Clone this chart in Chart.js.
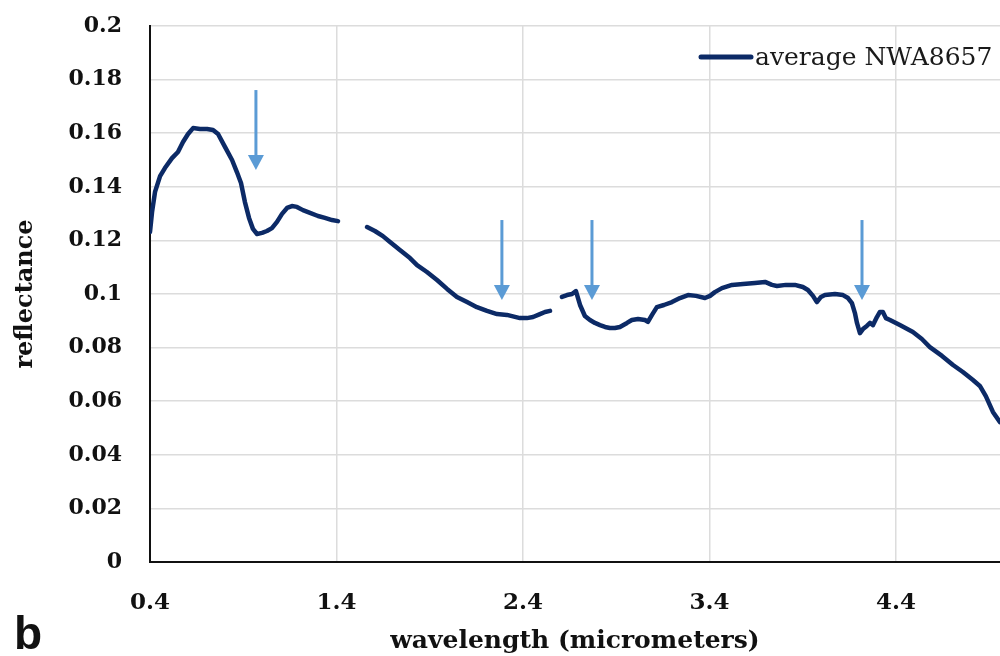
<!DOCTYPE html>
<html>
<head>
<meta charset="utf-8">
<script src="https://cdn.jsdelivr.net/npm/chart.js@4.4.1/dist/chart.umd.min.js"></script>
<style>
  html, body { margin: 0; padding: 0; background: #ffffff; overflow: hidden; }
  #wrap { position: relative; width: 1000px; height: 656px; }
  #panel { position: absolute; left: 14px; top: 610px; font: bold 46px "Liberation Sans", Arial, sans-serif; color: #111; line-height: 1; }
</style>
</head>
<body>
<div id="wrap">
  <canvas id="c" width="1000" height="656"></canvas>
  <div id="panel">b</div>
</div>
<script>
// ---- data ----
const seriesLabel = "average NWA8657";
const xTitle = "wavelength (micrometers)";
const yTitle = "reflectance";
const xTickValues = [0.4, 1.4, 2.4, 3.4, 4.4];

// wavelength (micrometers); null marks a gap in the measured spectrum
const wavelengths = [
  0.400, 0.411, 0.427, 0.454, 0.480, 0.518, 0.550, 0.577, 0.604, 0.631,
  0.668, 0.706, 0.738, 0.765, 0.802, 0.840, 0.866, 0.888, 0.909, 0.931,
  0.952, 0.974, 1.001, 1.027, 1.054, 1.081, 1.108, 1.135, 1.161, 1.188,
  1.220, 1.258, 1.301, 1.338, 1.376, 1.408,
  1.480,
  1.564, 1.606, 1.649, 1.687, 1.740, 1.794, 1.832, 1.885, 1.939, 1.993,
  2.046, 2.100, 2.153, 2.207, 2.261, 2.314, 2.384, 2.421, 2.454, 2.491,
  2.518, 2.545,
  2.580,
  2.609, 2.636, 2.663, 2.684, 2.706, 2.732, 2.759, 2.786, 2.813, 2.840,
  2.866, 2.893, 2.920, 2.958, 2.984, 3.017, 3.054, 3.070, 3.092, 3.118,
  3.156, 3.199, 3.242, 3.285, 3.328, 3.376, 3.403, 3.429, 3.467, 3.521,
  3.580, 3.644, 3.698, 3.735, 3.762, 3.810, 3.858, 3.901, 3.928, 3.955,
  3.976, 3.998, 4.019, 4.073, 4.116, 4.143, 4.164, 4.180, 4.191, 4.207,
  4.223, 4.244, 4.261, 4.277, 4.298, 4.314, 4.330, 4.346, 4.368, 4.421,
  4.491, 4.539, 4.582, 4.647, 4.706, 4.759, 4.813, 4.850, 4.882, 4.920,
  4.958
];
const reflectance = [
  0.1231, 0.1306, 0.1381, 0.1440, 0.1470, 0.1507, 0.1530, 0.1567, 0.1597, 0.1619,
  0.1616, 0.1616, 0.1612, 0.1597, 0.1549, 0.1500, 0.1455, 0.1414, 0.1343, 0.1284,
  0.1243, 0.1224, 0.1228, 0.1235, 0.1246, 0.1269, 0.1299, 0.1321, 0.1328, 0.1325,
  0.1313, 0.1303, 0.1291, 0.1284, 0.1276, 0.1272,
  null,
  0.1250, 0.1235, 0.1216, 0.1194, 0.1164, 0.1134, 0.1108, 0.1082, 0.1052, 0.1019,
  0.0989, 0.0970, 0.0951, 0.0937, 0.0925, 0.0922, 0.0910, 0.0910, 0.0914, 0.0925,
  0.0933, 0.0937,
  null,
  0.0989, 0.0996, 0.1000, 0.1011, 0.0959, 0.0918, 0.0903, 0.0892, 0.0884, 0.0877,
  0.0873, 0.0873, 0.0877, 0.0892, 0.0903, 0.0907, 0.0903, 0.0896, 0.0922, 0.0951,
  0.0959, 0.0970, 0.0985, 0.0996, 0.0993, 0.0985, 0.0993, 0.1007, 0.1022, 0.1034,
  0.1037, 0.1041, 0.1045, 0.1034, 0.1030, 0.1034, 0.1034, 0.1026, 0.1015, 0.0993,
  0.0970, 0.0989, 0.0996, 0.1000, 0.0996, 0.0985, 0.0966, 0.0929, 0.0892, 0.0854,
  0.0869, 0.0881, 0.0892, 0.0884, 0.0914, 0.0933, 0.0933, 0.0910, 0.0903, 0.0884,
  0.0858, 0.0832, 0.0802, 0.0769, 0.0735, 0.0709, 0.0679, 0.0657, 0.0619, 0.0560,
  0.0522
];

// absorption-band arrows: wavelength, tail reflectance, tip reflectance
const arrowWavelengths = [0.968, 2.287, 2.770, 4.218];
const arrowTail = [0.1761, 0.1276, 0.1276, 0.1276];
const arrowTip = [0.1463, 0.0978, 0.0978, 0.0978];

// ---- styles ----
const lineColor = "#0c2a66";
const arrowColor = "#5b9bd5";
const gridColor = "#dcdcdc";
const serif = "'DejaVu Serif', 'Liberation Serif', serif";

const points = wavelengths.map((w, i) => ({ x: w, y: reflectance[i] }));

const arrowPlugin = {
  id: 'arrows',
  afterDatasetsDraw(chart) {
    const { ctx, scales: { x, y } } = chart;
    ctx.save();
    ctx.strokeStyle = arrowColor;
    ctx.fillStyle = arrowColor;
    arrowWavelengths.forEach((w, i) => {
      const px = x.getPixelForValue(w);
      const top = y.getPixelForValue(arrowTail[i]);
      const tip = y.getPixelForValue(arrowTip[i]);
      const headLen = 15, headHalf = 8;
      ctx.lineWidth = 3;
      ctx.beginPath();
      ctx.moveTo(px, top);
      ctx.lineTo(px, tip - headLen + 1);
      ctx.stroke();
      ctx.beginPath();
      ctx.moveTo(px - headHalf, tip - headLen);
      ctx.lineTo(px + headHalf, tip - headLen);
      ctx.lineTo(px, tip);
      ctx.closePath();
      ctx.fill();
    });
    ctx.restore();
  }
};

const legendPlugin = {
  id: 'insideLegend',
  afterDraw(chart) {
    const { ctx } = chart;
    const ds = chart.data.datasets[0];
    ctx.save();
    ctx.strokeStyle = ds.borderColor;
    ctx.lineWidth = 5;
    ctx.lineCap = 'round';
    ctx.beginPath();
    ctx.moveTo(701, 57);
    ctx.lineTo(751, 57);
    ctx.stroke();
    ctx.fillStyle = '#1a1a1a';
    ctx.font = "25px " + serif;
    ctx.textBaseline = 'middle';
    ctx.textAlign = 'left';
    ctx.fillText(ds.label, 755, 58);
    ctx.restore();
  }
};

new Chart(document.getElementById('c'), {
  type: 'line',
  data: {
    datasets: [{
      label: seriesLabel,
      data: points,
      borderColor: lineColor,
      backgroundColor: lineColor,
      borderWidth: 4.5,
      pointRadius: 0,
      tension: 0,
      spanGaps: false,
      borderCapStyle: 'round',
      borderJoinStyle: 'round'
    }]
  },
  options: {
    responsive: false,
    devicePixelRatio: 1,
    animation: false,
    layout: { padding: { top: 26, right: 0, bottom: 0, left: 0 } },
    plugins: {
      legend: { display: false },
      tooltip: { enabled: false }
    },
    scales: {
      x: {
        type: 'linear',
        min: 0.4,
        max: 4.958,
        afterBuildTicks(axis) { axis.ticks = xTickValues.map(v => ({ value: v })); },
        afterFit(axis) { axis.height = 94; },
        ticks: {
          color: '#111',
          font: { family: serif, size: 23, weight: 'bold' },
          padding: 0,
          maxRotation: 0,
          autoSkip: false,
          callback: v => Number(v).toFixed(1)
        },
        grid: { color: gridColor, lineWidth: 1.5, drawTicks: true, tickLength: 27, tickColor: 'rgba(0,0,0,0)' },
        border: { color: '#111', width: 2 },
        title: {
          display: true,
          text: xTitle,
          color: '#111',
          font: { family: serif, size: 25, weight: 'bold' },
          padding: { top: 0, bottom: 0 }
        }
      },
      y: {
        min: 0,
        max: 0.2,
        afterFit(axis) { axis.width = 150; },
        ticks: {
          stepSize: 0.02,
          color: '#111',
          font: { family: serif, size: 22, weight: 'bold' },
          padding: 0,
          callback: v => String(Number(Number(v).toFixed(2)))
        },
        grid: { color: gridColor, lineWidth: 1.5, drawTicks: true, tickLength: 28, tickColor: 'rgba(0,0,0,0)' },
        border: { color: '#111', width: 2 },
        title: {
          display: true,
          text: yTitle,
          color: '#111',
          font: { family: serif, size: 24, weight: 'bold' },
          padding: { top: 11, bottom: 0 }
        }
      }
    }
  },
  plugins: [arrowPlugin, legendPlugin]
});
</script>
</body>
</html>
